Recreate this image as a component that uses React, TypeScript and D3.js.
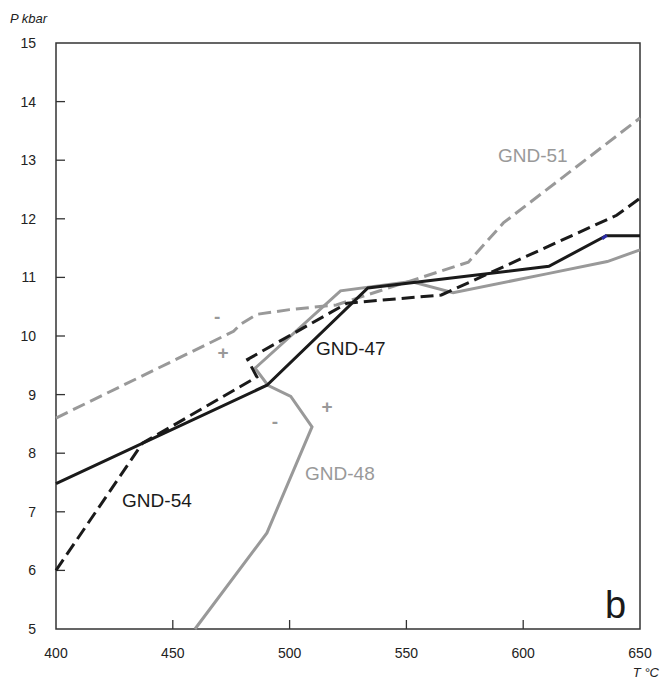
import React from "react";
import * as d3 from "d3";

type Pt = [number, number];

// P–T paths (temperature °C, pressure kbar)
const gnd51: Pt[] = [
  [400, 8.6], [476, 10.08], [479, 10.2], [486, 10.37], [500, 10.45], [520, 10.53],
  [576.5, 11.26], [591.5, 11.93], [650, 13.72],
];
const gnd47: Pt[] = [
  [400, 7.48], [490.3, 9.16], [533.5, 10.82], [611, 11.19], [635.5, 11.71], [650, 11.71],
];
const gnd47Accent: Pt[] = [[633.8, 11.66], [635.8, 11.72]];
const gnd54: Pt[] = [
  [400, 6.0], [437, 8.17], [486, 9.3], [482, 9.6], [524.6, 10.56], [565, 10.7],
  [640, 12.06], [650, 12.35],
];
const gnd48: Pt[] = [
  [459.5, 5.0], [490.3, 6.64], [509.6, 8.45], [500.5, 8.97], [490.7, 9.16], [485.2, 9.45],
  [521.8, 10.77], [552, 10.93], [570, 10.74], [610, 11.06], [636, 11.27], [650, 11.47],
];

const xTicks = [400, 450, 500, 550, 600, 650];
const yTicks = [5, 6, 7, 8, 9, 10, 11, 12, 13, 14, 15];

// sign markers (T, P, text)
const signs: [number, number, string][] = [
  [469, 10.32, "-"],
  [471.5, 9.71, "+"],
  [516, 8.79, "+"],
  [493.7, 8.53, "-"],
];

// curve labels (T, P of text baseline start, text, colour)
const labels: [number, number, string, string][] = [
  [589.2, 12.97, "GND-51", "#999"],
  [511.3, 9.68, "GND-47", "#1a1a1a"],
  [428.3, 7.08, "GND-54", "#1a1a1a"],
  [506.6, 7.54, "GND-48", "#999"],
];

const GRAY = "#999999";
const BLACK = "#1a1a1a";

export default function App() {
  const x = d3.scaleLinear().domain([400, 650]).range([56, 640]);
  const y = d3.scaleLinear().domain([5, 15]).range([629, 43]);
  const line = d3
    .line<Pt>()
    .x((d) => x(d[0]))
    .y((d) => y(d[1]));

  const font = "'Liberation Sans', Arial, sans-serif";
  const dash = "13 6";

  return (
    <svg
      width={662}
      height={683}
      style={{ position: "absolute", left: 0, top: 0, background: "#fff" }}
      fontFamily={font}
    >
      {/* frame */}
      <rect
        x={x(400)}
        y={y(15)}
        width={x(650) - x(400)}
        height={y(5) - y(15)}
        fill="none"
        stroke="#333"
        strokeWidth={1.5}
      />
      {/* inward ticks */}
      {yTicks.slice(1, -1).map((t) => (
        <line key={"yt" + t} x1={x(400)} x2={x(400) + 9} y1={y(t)} y2={y(t)} stroke="#333" strokeWidth={1.3} />
      ))}
      {xTicks.slice(1, -1).map((t) => (
        <line key={"xt" + t} x1={x(t)} x2={x(t)} y1={y(5)} y2={y(5) - 9} stroke="#333" strokeWidth={1.3} />
      ))}
      {/* tick labels */}
      {yTicks.map((t) => (
        <text key={"yl" + t} x={36} y={y(t) + 5} fontSize={14} textAnchor="end" fill="#222">
          {t}
        </text>
      ))}
      {xTicks.map((t) => (
        <text key={"xl" + t} x={x(t)} y={658} fontSize={14} textAnchor="middle" fill="#222">
          {t}
        </text>
      ))}
      <text x={10} y={23} fontSize={13} fontStyle="italic" fill="#222">
        P kbar
      </text>
      <text x={659} y={677} fontSize={13} fontStyle="italic" textAnchor="end" fill="#222">
        T °C
      </text>

      {/* curves */}
      <path d={line(gnd48) ?? ""} fill="none" stroke={GRAY} strokeWidth={3} />
      <path d={line(gnd51) ?? ""} fill="none" stroke={GRAY} strokeWidth={3} strokeDasharray={dash} />
      <path d={line(gnd47) ?? ""} fill="none" stroke={BLACK} strokeWidth={3} />
      <path d={line(gnd47Accent) ?? ""} fill="none" stroke="#2b2ba8" strokeWidth={3} />
      <path d={line(gnd54) ?? ""} fill="none" stroke={BLACK} strokeWidth={3} strokeDasharray={dash} />

      {/* signs */}
      {signs.map(([t, p, s], i) => (
        <text
          key={"s" + i}
          x={x(t)}
          y={y(p) + 6}
          fontSize={19}
          fontWeight="bold"
          textAnchor="middle"
          fill={GRAY}
        >
          {s}
        </text>
      ))}

      {/* labels */}
      {labels.map(([t, p, s, c]) => (
        <text key={s} x={x(t)} y={y(p)} fontSize={19} fill={c}>
          {s}
        </text>
      ))}

      <text x={605} y={618} fontSize={38} fill={BLACK}>
        b
      </text>
    </svg>
  );
}
